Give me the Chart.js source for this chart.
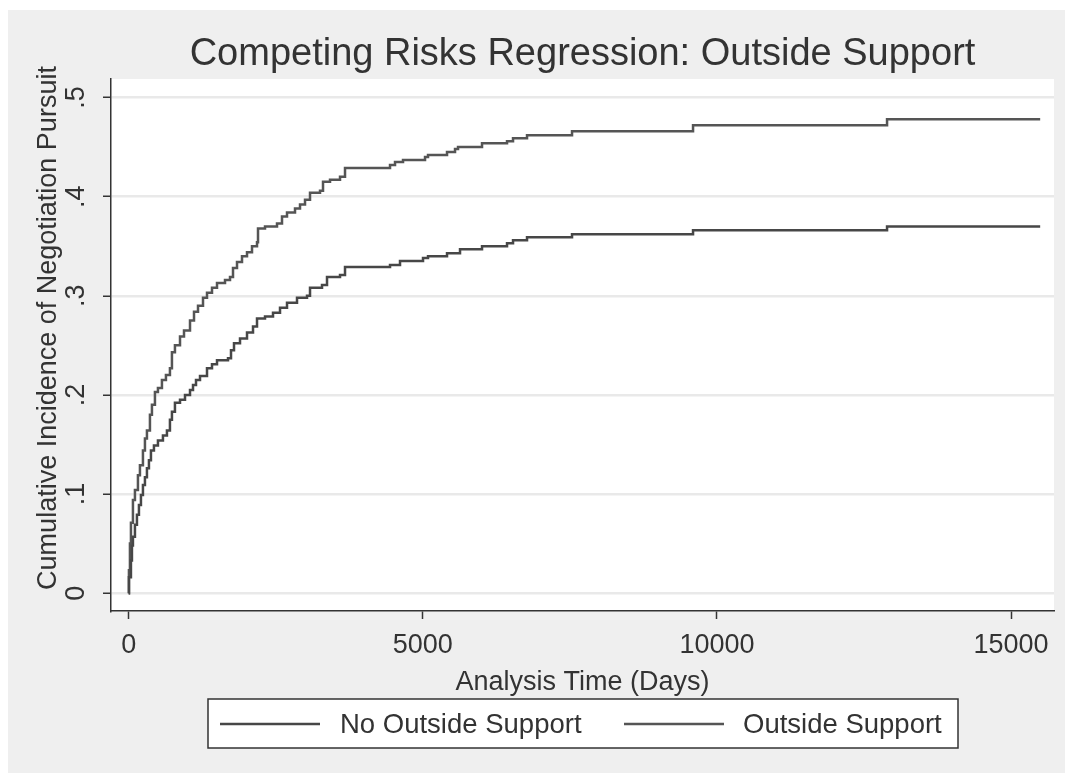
<!DOCTYPE html>
<html>
<head>
<meta charset="utf-8">
<script src="https://cdn.jsdelivr.net/npm/chart.js@4.4.1/dist/chart.umd.min.js"></script>
<style>
  html, body { margin: 0; padding: 0; background: #ffffff; }
  canvas { display: block; }
</style>
</head>
<body>
<canvas id="crrChart" width="1065" height="773"></canvas>
<script>
// cumulative incidence (days, value after the step)
const noSupportDays = [0, 5, 39, 56, 73, 107, 141, 175, 209, 243, 277, 311, 345, 379, 430, 498, 583, 651, 702, 736, 787, 873, 958, 1043, 1094, 1145, 1213, 1332, 1417, 1502, 1689, 1740, 1791, 1893, 2012, 2114, 2182, 2318, 2454, 2573, 2692, 2862, 3032, 3083, 3287, 3372, 3593, 3678, 4443, 4613, 5004, 5089, 5412, 5633, 6007, 6432, 6534, 6772, 7537, 9594, 12892, 15495];
const noSupportCif = [0, 0.016, 0.033, 0.048, 0.057, 0.069, 0.079, 0.089, 0.099, 0.109, 0.117, 0.126, 0.134, 0.144, 0.149, 0.154, 0.159, 0.164, 0.175, 0.183, 0.192, 0.195, 0.200, 0.205, 0.210, 0.215, 0.219, 0.227, 0.231, 0.235, 0.237, 0.245, 0.252, 0.257, 0.263, 0.269, 0.277, 0.279, 0.283, 0.288, 0.293, 0.298, 0.300, 0.308, 0.311, 0.319, 0.321, 0.329, 0.331, 0.335, 0.338, 0.340, 0.343, 0.347, 0.350, 0.353, 0.356, 0.359, 0.362, 0.366, 0.370, 0.370];

const supportDays = [0, 5, 22, 39, 73, 107, 158, 192, 243, 277, 311, 362, 396, 447, 498, 566, 634, 702, 736, 787, 873, 941, 1043, 1111, 1179, 1264, 1332, 1417, 1502, 1638, 1723, 1774, 1842, 1927, 2012, 2097, 2182, 2199, 2318, 2522, 2607, 2692, 2828, 2913, 2998, 3083, 3253, 3304, 3423, 3593, 3678, 4443, 4528, 4664, 5038, 5089, 5412, 5548, 5599, 6007, 6432, 6534, 6772, 7537, 9594, 12892, 15495];
const supportCif = [0, 0.023, 0.050, 0.071, 0.094, 0.104, 0.119, 0.129, 0.144, 0.156, 0.164, 0.180, 0.190, 0.203, 0.207, 0.215, 0.220, 0.227, 0.243, 0.250, 0.259, 0.265, 0.275, 0.284, 0.290, 0.298, 0.303, 0.308, 0.313, 0.316, 0.319, 0.328, 0.334, 0.340, 0.344, 0.350, 0.354, 0.368, 0.370, 0.373, 0.380, 0.384, 0.388, 0.392, 0.397, 0.404, 0.406, 0.415, 0.417, 0.420, 0.429, 0.432, 0.435, 0.437, 0.440, 0.442, 0.445, 0.448, 0.450, 0.454, 0.456, 0.459, 0.462, 0.466, 0.472, 0.478, 0.478];

const seriesLabels = ['No Outside Support', 'Outside Support'];
const xTickValues = [0, 5000, 10000, 15000];
const yTickValues = [0, 0.1, 0.2, 0.3, 0.4, 0.5];
const yTickLabels = ['0', '.1', '.2', '.3', '.4', '.5'];

const FONT = "'Liberation Sans', Arial, sans-serif";
const TEXT = '#333333';

const toPoints = (xs, ys) => xs.map((x, i) => ({ x: x, y: ys[i] }));

// Stata-ish frame: grey graph region, white plot region, titles, y labels, boxed legend
const stataFrame = {
    id: 'stataFrame',
    beforeDraw(chart) {
        const { ctx, chartArea: a } = chart;
        ctx.save();
        ctx.fillStyle = '#efefef';
        ctx.fillRect(8, 10, chart.width - 8, chart.height - 10);
        ctx.fillStyle = '#ffffff';
        ctx.fillRect(a.left, a.top, a.right - a.left, a.bottom - a.top);
        ctx.restore();
    },
    afterDraw(chart) {
        const { ctx, chartArea: a } = chart;
        const yScale = chart.scales.y;
        ctx.save();
        ctx.fillStyle = TEXT;

        // title
        ctx.font = '38px ' + FONT;
        ctx.textAlign = 'center';
        ctx.textBaseline = 'middle';
        ctx.fillText('Competing Risks Regression: Outside Support', (a.left + a.right) / 2, 55);

        // rotated y tick labels
        ctx.font = '27px ' + FONT;
        yTickValues.forEach((v, i) => {
            ctx.save();
            ctx.translate(77, yScale.getPixelForValue(v));
            ctx.rotate(-Math.PI / 2);
            ctx.fillText(yTickLabels[i], 0, 0);
            ctx.restore();
        });

        // y axis title
        ctx.save();
        ctx.translate(49, 328);
        ctx.rotate(-Math.PI / 2);
        ctx.fillText('Cumulative Incidence of Negotiation Pursuit', 0, 0);
        ctx.restore();

        // legend
        ctx.fillStyle = '#ffffff';
        ctx.fillRect(208, 699, 750, 49);
        ctx.strokeStyle = '#333333';
        ctx.lineWidth = 1.5;
        ctx.strokeRect(208, 699, 750, 49);
        const entries = [[220, 340], [624, 743]];
        ctx.font = '27.5px ' + FONT;
        chart.data.datasets.forEach((ds, i) => {
            ctx.strokeStyle = ds.borderColor;
            ctx.lineWidth = ds.borderWidth;
            ctx.beginPath();
            ctx.moveTo(entries[i][0], 724);
            ctx.lineTo(entries[i][0] + 100, 724);
            ctx.stroke();
            ctx.fillStyle = TEXT;
            ctx.textAlign = 'left';
            ctx.fillText(ds.label, entries[i][1], 725);
        });
        ctx.restore();
    }
};

new Chart(document.getElementById('crrChart'), {
    type: 'line',
    data: {
        datasets: [{
            label: seriesLabels[0],
            data: toPoints(noSupportDays, noSupportCif),
            borderColor: '#474747',
            borderWidth: 2.5,
            stepped: true,
            pointRadius: 0,
            fill: false
        }, {
            label: seriesLabels[1],
            data: toPoints(supportDays, supportCif),
            borderColor: '#555555',
            borderWidth: 2.5,
            stepped: true,
            pointRadius: 0,
            fill: false
        }]
    },
    options: {
        responsive: false,
        animation: false,
        devicePixelRatio: 1,
        layout: { padding: { left: 0, top: 79, right: 11, bottom: 0 } },
        plugins: {
            legend: { display: false },
            title: { display: false },
            tooltip: { enabled: false }
        },
        scales: {
            x: {
                type: 'linear',
                min: -300,
                max: 15730,
                afterBuildTicks: (scale) => { scale.ticks = xTickValues.map(v => ({ value: v })); },
                afterFit: (scale) => { scale.height = 162; },
                ticks: {
                    color: TEXT,
                    font: { family: FONT, size: 27 },
                    padding: 10,
                    maxRotation: 0,
                    callback: (v) => String(v)
                },
                grid: {
                    drawOnChartArea: false,
                    tickLength: 8,
                    tickColor: '#333333',
                    tickWidth: 1.5
                },
                border: { color: '#333333', width: 1.5 },
                title: {
                    display: true,
                    text: 'Analysis Time (Days)',
                    color: TEXT,
                    font: { family: FONT, size: 27 },
                    padding: { top: 0, bottom: 74 }
                }
            },
            y: {
                type: 'linear',
                min: -0.018,
                max: 0.5187,
                afterBuildTicks: (scale) => { scale.ticks = yTickValues.map(v => ({ value: v })); },
                afterFit: (scale) => { scale.width = 111; },
                ticks: { display: false },
                grid: {
                    color: '#e9e9e9',
                    lineWidth: 2.5,
                    tickLength: 8,
                    tickColor: '#333333',
                    tickWidth: 1.5
                },
                border: { color: '#333333', width: 1.5 }
            }
        }
    },
    plugins: [stataFrame]
});
</script>
</body>
</html>
